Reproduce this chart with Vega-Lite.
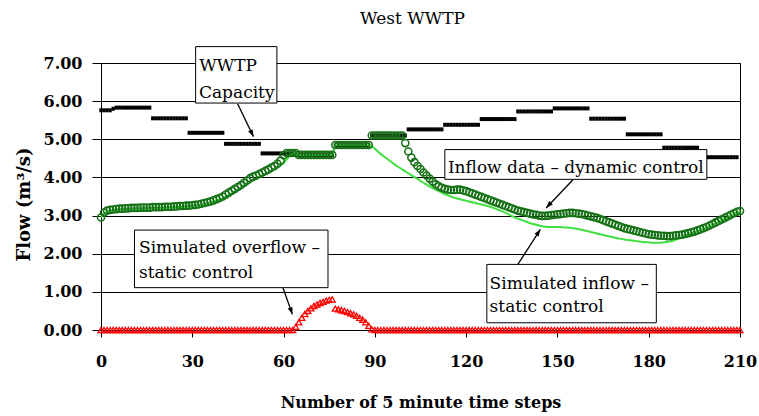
{
  "$schema": "https://vega.github.io/schema/vega-lite/v6.json",
  "width": 639,
  "height": 267,
  "autosize": {"type": "none"},
  "padding": {"left": 101, "top": 63, "right": 19, "bottom": 86},
  "background": "white",
  "title": {"text": "West WWTP", "font": "DejaVu Serif", "fontSize": 17, "fontWeight": "normal", "color": "black", "anchor": "middle", "frame": "group", "offset": 18, "dx": -8},
  "config": {"font": "DejaVu Serif", "view": {"stroke": "black", "strokeWidth": 1}},
  "datasets": {
    "flow": [
      {"t":0,"cap":5.76,"dyn":2.95,"sim":2.95,"ovf":0},
      {"t":1,"cap":5.76,"dyn":3.08,"sim":3.05,"ovf":0},
      {"t":2,"cap":5.76,"dyn":3.13,"sim":3.1,"ovf":0},
      {"t":3,"cap":5.76,"dyn":3.15,"sim":3.13,"ovf":0},
      {"t":4,"cap":5.8,"dyn":3.16,"sim":3.14,"ovf":0},
      {"t":5,"cap":5.83,"dyn":3.17,"sim":3.15,"ovf":0},
      {"t":6,"cap":5.83,"dyn":3.18,"sim":3.16,"ovf":0},
      {"t":7,"cap":5.83,"dyn":3.18,"sim":3.16,"ovf":0},
      {"t":8,"cap":5.83,"dyn":3.19,"sim":3.17,"ovf":0},
      {"t":9,"cap":5.83,"dyn":3.19,"sim":3.17,"ovf":0},
      {"t":10,"cap":5.83,"dyn":3.2,"sim":3.18,"ovf":0},
      {"t":11,"cap":5.83,"dyn":3.2,"sim":3.18,"ovf":0},
      {"t":12,"cap":5.83,"dyn":3.2,"sim":3.18,"ovf":0},
      {"t":13,"cap":5.83,"dyn":3.21,"sim":3.19,"ovf":0},
      {"t":14,"cap":5.83,"dyn":3.21,"sim":3.19,"ovf":0},
      {"t":15,"cap":5.83,"dyn":3.21,"sim":3.19,"ovf":0},
      {"t":16,"cap":5.83,"dyn":3.21,"sim":3.19,"ovf":0},
      {"t":17,"cap":5.55,"dyn":3.22,"sim":3.2,"ovf":0},
      {"t":18,"cap":5.55,"dyn":3.22,"sim":3.2,"ovf":0},
      {"t":19,"cap":5.55,"dyn":3.22,"sim":3.2,"ovf":0},
      {"t":20,"cap":5.55,"dyn":3.22,"sim":3.2,"ovf":0},
      {"t":21,"cap":5.55,"dyn":3.23,"sim":3.21,"ovf":0},
      {"t":22,"cap":5.55,"dyn":3.23,"sim":3.21,"ovf":0},
      {"t":23,"cap":5.55,"dyn":3.23,"sim":3.21,"ovf":0},
      {"t":24,"cap":5.55,"dyn":3.24,"sim":3.22,"ovf":0},
      {"t":25,"cap":5.55,"dyn":3.24,"sim":3.22,"ovf":0},
      {"t":26,"cap":5.55,"dyn":3.25,"sim":3.23,"ovf":0},
      {"t":27,"cap":5.55,"dyn":3.25,"sim":3.23,"ovf":0},
      {"t":28,"cap":5.55,"dyn":3.26,"sim":3.24,"ovf":0},
      {"t":29,"cap":5.17,"dyn":3.26,"sim":3.24,"ovf":0},
      {"t":30,"cap":5.17,"dyn":3.27,"sim":3.25,"ovf":0},
      {"t":31,"cap":5.17,"dyn":3.28,"sim":3.26,"ovf":0},
      {"t":32,"cap":5.17,"dyn":3.29,"sim":3.27,"ovf":0},
      {"t":33,"cap":5.17,"dyn":3.31,"sim":3.28,"ovf":0},
      {"t":34,"cap":5.17,"dyn":3.33,"sim":3.3,"ovf":0},
      {"t":35,"cap":5.17,"dyn":3.35,"sim":3.32,"ovf":0},
      {"t":36,"cap":5.17,"dyn":3.37,"sim":3.34,"ovf":0},
      {"t":37,"cap":5.17,"dyn":3.4,"sim":3.36,"ovf":0},
      {"t":38,"cap":5.17,"dyn":3.43,"sim":3.39,"ovf":0},
      {"t":39,"cap":5.17,"dyn":3.46,"sim":3.42,"ovf":0},
      {"t":40,"cap":5.17,"dyn":3.5,"sim":3.45,"ovf":0},
      {"t":41,"cap":4.88,"dyn":3.55,"sim":3.49,"ovf":0},
      {"t":42,"cap":4.88,"dyn":3.6,"sim":3.53,"ovf":0},
      {"t":43,"cap":4.88,"dyn":3.65,"sim":3.57,"ovf":0},
      {"t":44,"cap":4.88,"dyn":3.7,"sim":3.62,"ovf":0},
      {"t":45,"cap":4.88,"dyn":3.75,"sim":3.67,"ovf":0},
      {"t":46,"cap":4.88,"dyn":3.8,"sim":3.72,"ovf":0},
      {"t":47,"cap":4.88,"dyn":3.86,"sim":3.77,"ovf":0},
      {"t":48,"cap":4.88,"dyn":3.92,"sim":3.82,"ovf":0},
      {"t":49,"cap":4.88,"dyn":3.98,"sim":3.87,"ovf":0},
      {"t":50,"cap":4.88,"dyn":4.02,"sim":3.92,"ovf":0},
      {"t":51,"cap":4.88,"dyn":4.05,"sim":3.96,"ovf":0},
      {"t":52,"cap":4.88,"dyn":4.09,"sim":4.0,"ovf":0},
      {"t":53,"cap":4.63,"dyn":4.13,"sim":4.04,"ovf":0},
      {"t":54,"cap":4.63,"dyn":4.17,"sim":4.08,"ovf":0},
      {"t":55,"cap":4.63,"dyn":4.21,"sim":4.12,"ovf":0},
      {"t":56,"cap":4.63,"dyn":4.26,"sim":4.16,"ovf":0},
      {"t":57,"cap":4.63,"dyn":4.3,"sim":4.21,"ovf":0},
      {"t":58,"cap":4.63,"dyn":4.36,"sim":4.26,"ovf":0},
      {"t":59,"cap":4.63,"dyn":4.44,"sim":4.32,"ovf":0},
      {"t":60,"cap":4.63,"dyn":4.58,"sim":4.38,"ovf":0},
      {"t":61,"cap":4.63,"dyn":4.64,"sim":4.47,"ovf":0},
      {"t":62,"cap":4.63,"dyn":4.64,"sim":4.57,"ovf":0},
      {"t":63,"cap":4.63,"dyn":4.64,"sim":4.63,"ovf":0},
      {"t":64,"cap":4.63,"dyn":4.64,"sim":4.64,"ovf":0.08},
      {"t":65,"cap":4.58,"dyn":4.59,"sim":4.59,"ovf":0.2},
      {"t":66,"cap":4.58,"dyn":4.59,"sim":4.59,"ovf":0.32},
      {"t":67,"cap":4.58,"dyn":4.59,"sim":4.59,"ovf":0.42},
      {"t":68,"cap":4.58,"dyn":4.59,"sim":4.59,"ovf":0.5},
      {"t":69,"cap":4.58,"dyn":4.59,"sim":4.59,"ovf":0.57},
      {"t":70,"cap":4.58,"dyn":4.59,"sim":4.59,"ovf":0.63},
      {"t":71,"cap":4.58,"dyn":4.59,"sim":4.59,"ovf":0.67},
      {"t":72,"cap":4.58,"dyn":4.59,"sim":4.59,"ovf":0.71},
      {"t":73,"cap":4.58,"dyn":4.59,"sim":4.59,"ovf":0.74},
      {"t":74,"cap":4.58,"dyn":4.59,"sim":4.59,"ovf":0.77},
      {"t":75,"cap":4.58,"dyn":4.59,"sim":4.59,"ovf":0.79},
      {"t":76,"cap":4.58,"dyn":4.59,"sim":4.59,"ovf":0.8},
      {"t":77,"cap":4.84,"dyn":4.85,"sim":4.85,"ovf":0.56},
      {"t":78,"cap":4.84,"dyn":4.85,"sim":4.85,"ovf":0.54},
      {"t":79,"cap":4.84,"dyn":4.85,"sim":4.85,"ovf":0.52},
      {"t":80,"cap":4.84,"dyn":4.85,"sim":4.85,"ovf":0.5},
      {"t":81,"cap":4.84,"dyn":4.85,"sim":4.85,"ovf":0.47},
      {"t":82,"cap":4.84,"dyn":4.85,"sim":4.85,"ovf":0.44},
      {"t":83,"cap":4.84,"dyn":4.85,"sim":4.85,"ovf":0.41},
      {"t":84,"cap":4.84,"dyn":4.85,"sim":4.85,"ovf":0.37},
      {"t":85,"cap":4.84,"dyn":4.85,"sim":4.85,"ovf":0.32},
      {"t":86,"cap":4.84,"dyn":4.85,"sim":4.85,"ovf":0.27},
      {"t":87,"cap":4.84,"dyn":4.85,"sim":4.85,"ovf":0.2},
      {"t":88,"cap":4.84,"dyn":4.85,"sim":4.85,"ovf":0.11},
      {"t":89,"cap":5.1,"dyn":5.1,"sim":4.82,"ovf":0.02},
      {"t":90,"cap":5.1,"dyn":5.1,"sim":4.75,"ovf":0},
      {"t":91,"cap":5.1,"dyn":5.1,"sim":4.68,"ovf":0},
      {"t":92,"cap":5.1,"dyn":5.1,"sim":4.61,"ovf":0},
      {"t":93,"cap":5.1,"dyn":5.1,"sim":4.55,"ovf":0},
      {"t":94,"cap":5.1,"dyn":5.1,"sim":4.49,"ovf":0},
      {"t":95,"cap":5.1,"dyn":5.1,"sim":4.43,"ovf":0},
      {"t":96,"cap":5.1,"dyn":5.1,"sim":4.37,"ovf":0},
      {"t":97,"cap":5.1,"dyn":5.1,"sim":4.31,"ovf":0},
      {"t":98,"cap":5.1,"dyn":5.1,"sim":4.26,"ovf":0},
      {"t":99,"cap":5.1,"dyn":5.1,"sim":4.21,"ovf":0},
      {"t":100,"cap":5.1,"dyn":4.9,"sim":4.16,"ovf":0},
      {"t":101,"cap":5.26,"dyn":4.68,"sim":4.11,"ovf":0},
      {"t":102,"cap":5.26,"dyn":4.52,"sim":4.06,"ovf":0},
      {"t":103,"cap":5.26,"dyn":4.4,"sim":4.01,"ovf":0},
      {"t":104,"cap":5.26,"dyn":4.3,"sim":3.96,"ovf":0},
      {"t":105,"cap":5.26,"dyn":4.22,"sim":3.91,"ovf":0},
      {"t":106,"cap":5.26,"dyn":4.13,"sim":3.86,"ovf":0},
      {"t":107,"cap":5.26,"dyn":4.05,"sim":3.81,"ovf":0},
      {"t":108,"cap":5.26,"dyn":3.97,"sim":3.76,"ovf":0},
      {"t":109,"cap":5.26,"dyn":3.89,"sim":3.72,"ovf":0},
      {"t":110,"cap":5.26,"dyn":3.82,"sim":3.68,"ovf":0},
      {"t":111,"cap":5.26,"dyn":3.77,"sim":3.64,"ovf":0},
      {"t":112,"cap":5.26,"dyn":3.73,"sim":3.6,"ovf":0},
      {"t":113,"cap":5.38,"dyn":3.7,"sim":3.56,"ovf":0},
      {"t":114,"cap":5.38,"dyn":3.68,"sim":3.53,"ovf":0},
      {"t":115,"cap":5.38,"dyn":3.67,"sim":3.5,"ovf":0},
      {"t":116,"cap":5.38,"dyn":3.67,"sim":3.47,"ovf":0},
      {"t":117,"cap":5.38,"dyn":3.68,"sim":3.45,"ovf":0},
      {"t":118,"cap":5.38,"dyn":3.68,"sim":3.43,"ovf":0},
      {"t":119,"cap":5.38,"dyn":3.66,"sim":3.41,"ovf":0},
      {"t":120,"cap":5.38,"dyn":3.64,"sim":3.39,"ovf":0},
      {"t":121,"cap":5.38,"dyn":3.61,"sim":3.37,"ovf":0},
      {"t":122,"cap":5.38,"dyn":3.58,"sim":3.35,"ovf":0},
      {"t":123,"cap":5.38,"dyn":3.55,"sim":3.33,"ovf":0},
      {"t":124,"cap":5.38,"dyn":3.52,"sim":3.31,"ovf":0},
      {"t":125,"cap":5.53,"dyn":3.49,"sim":3.29,"ovf":0},
      {"t":126,"cap":5.53,"dyn":3.46,"sim":3.27,"ovf":0},
      {"t":127,"cap":5.53,"dyn":3.43,"sim":3.25,"ovf":0},
      {"t":128,"cap":5.53,"dyn":3.4,"sim":3.23,"ovf":0},
      {"t":129,"cap":5.53,"dyn":3.37,"sim":3.2,"ovf":0},
      {"t":130,"cap":5.53,"dyn":3.34,"sim":3.17,"ovf":0},
      {"t":131,"cap":5.53,"dyn":3.31,"sim":3.14,"ovf":0},
      {"t":132,"cap":5.53,"dyn":3.28,"sim":3.11,"ovf":0},
      {"t":133,"cap":5.53,"dyn":3.25,"sim":3.07,"ovf":0},
      {"t":134,"cap":5.53,"dyn":3.22,"sim":3.03,"ovf":0},
      {"t":135,"cap":5.53,"dyn":3.19,"sim":2.99,"ovf":0},
      {"t":136,"cap":5.53,"dyn":3.16,"sim":2.95,"ovf":0},
      {"t":137,"cap":5.73,"dyn":3.13,"sim":2.92,"ovf":0},
      {"t":138,"cap":5.73,"dyn":3.11,"sim":2.89,"ovf":0},
      {"t":139,"cap":5.73,"dyn":3.09,"sim":2.86,"ovf":0},
      {"t":140,"cap":5.73,"dyn":3.07,"sim":2.83,"ovf":0},
      {"t":141,"cap":5.73,"dyn":3.05,"sim":2.8,"ovf":0},
      {"t":142,"cap":5.73,"dyn":3.03,"sim":2.78,"ovf":0},
      {"t":143,"cap":5.73,"dyn":3.02,"sim":2.76,"ovf":0},
      {"t":144,"cap":5.73,"dyn":3.0,"sim":2.74,"ovf":0},
      {"t":145,"cap":5.73,"dyn":2.99,"sim":2.72,"ovf":0},
      {"t":146,"cap":5.73,"dyn":2.99,"sim":2.71,"ovf":0},
      {"t":147,"cap":5.73,"dyn":3.0,"sim":2.7,"ovf":0},
      {"t":148,"cap":5.73,"dyn":3.01,"sim":2.7,"ovf":0},
      {"t":149,"cap":5.81,"dyn":3.02,"sim":2.7,"ovf":0},
      {"t":150,"cap":5.81,"dyn":3.03,"sim":2.7,"ovf":0},
      {"t":151,"cap":5.81,"dyn":3.04,"sim":2.7,"ovf":0},
      {"t":152,"cap":5.81,"dyn":3.05,"sim":2.69,"ovf":0},
      {"t":153,"cap":5.81,"dyn":3.06,"sim":2.69,"ovf":0},
      {"t":154,"cap":5.81,"dyn":3.07,"sim":2.68,"ovf":0},
      {"t":155,"cap":5.81,"dyn":3.07,"sim":2.67,"ovf":0},
      {"t":156,"cap":5.81,"dyn":3.06,"sim":2.66,"ovf":0},
      {"t":157,"cap":5.81,"dyn":3.05,"sim":2.64,"ovf":0},
      {"t":158,"cap":5.81,"dyn":3.04,"sim":2.63,"ovf":0},
      {"t":159,"cap":5.81,"dyn":3.02,"sim":2.61,"ovf":0},
      {"t":160,"cap":5.81,"dyn":3.0,"sim":2.59,"ovf":0},
      {"t":161,"cap":5.54,"dyn":2.98,"sim":2.57,"ovf":0},
      {"t":162,"cap":5.54,"dyn":2.96,"sim":2.55,"ovf":0},
      {"t":163,"cap":5.54,"dyn":2.94,"sim":2.53,"ovf":0},
      {"t":164,"cap":5.54,"dyn":2.91,"sim":2.51,"ovf":0},
      {"t":165,"cap":5.54,"dyn":2.88,"sim":2.49,"ovf":0},
      {"t":166,"cap":5.54,"dyn":2.85,"sim":2.47,"ovf":0},
      {"t":167,"cap":5.54,"dyn":2.82,"sim":2.46,"ovf":0},
      {"t":168,"cap":5.54,"dyn":2.79,"sim":2.44,"ovf":0},
      {"t":169,"cap":5.54,"dyn":2.76,"sim":2.42,"ovf":0},
      {"t":170,"cap":5.54,"dyn":2.73,"sim":2.4,"ovf":0},
      {"t":171,"cap":5.54,"dyn":2.7,"sim":2.39,"ovf":0},
      {"t":172,"cap":5.54,"dyn":2.67,"sim":2.37,"ovf":0},
      {"t":173,"cap":5.13,"dyn":2.65,"sim":2.36,"ovf":0},
      {"t":174,"cap":5.13,"dyn":2.63,"sim":2.35,"ovf":0},
      {"t":175,"cap":5.13,"dyn":2.61,"sim":2.34,"ovf":0},
      {"t":176,"cap":5.13,"dyn":2.59,"sim":2.33,"ovf":0},
      {"t":177,"cap":5.13,"dyn":2.57,"sim":2.32,"ovf":0},
      {"t":178,"cap":5.13,"dyn":2.55,"sim":2.31,"ovf":0},
      {"t":179,"cap":5.13,"dyn":2.53,"sim":2.3,"ovf":0},
      {"t":180,"cap":5.13,"dyn":2.51,"sim":2.3,"ovf":0},
      {"t":181,"cap":5.13,"dyn":2.5,"sim":2.29,"ovf":0},
      {"t":182,"cap":5.13,"dyn":2.49,"sim":2.29,"ovf":0},
      {"t":183,"cap":5.13,"dyn":2.48,"sim":2.29,"ovf":0},
      {"t":184,"cap":5.13,"dyn":2.47,"sim":2.29,"ovf":0},
      {"t":185,"cap":4.78,"dyn":2.47,"sim":2.3,"ovf":0},
      {"t":186,"cap":4.78,"dyn":2.46,"sim":2.31,"ovf":0},
      {"t":187,"cap":4.78,"dyn":2.46,"sim":2.32,"ovf":0},
      {"t":188,"cap":4.78,"dyn":2.47,"sim":2.34,"ovf":0},
      {"t":189,"cap":4.78,"dyn":2.48,"sim":2.37,"ovf":0},
      {"t":190,"cap":4.78,"dyn":2.49,"sim":2.4,"ovf":0},
      {"t":191,"cap":4.78,"dyn":2.5,"sim":2.43,"ovf":0},
      {"t":192,"cap":4.78,"dyn":2.52,"sim":2.47,"ovf":0},
      {"t":193,"cap":4.78,"dyn":2.54,"sim":2.5,"ovf":0},
      {"t":194,"cap":4.78,"dyn":2.56,"sim":2.53,"ovf":0},
      {"t":195,"cap":4.78,"dyn":2.58,"sim":2.56,"ovf":0},
      {"t":196,"cap":4.78,"dyn":2.61,"sim":2.59,"ovf":0},
      {"t":197,"cap":4.53,"dyn":2.64,"sim":2.62,"ovf":0},
      {"t":198,"cap":4.53,"dyn":2.67,"sim":2.65,"ovf":0},
      {"t":199,"cap":4.53,"dyn":2.7,"sim":2.68,"ovf":0},
      {"t":200,"cap":4.53,"dyn":2.74,"sim":2.72,"ovf":0},
      {"t":201,"cap":4.53,"dyn":2.78,"sim":2.76,"ovf":0},
      {"t":202,"cap":4.53,"dyn":2.82,"sim":2.8,"ovf":0},
      {"t":203,"cap":4.53,"dyn":2.86,"sim":2.84,"ovf":0},
      {"t":204,"cap":4.53,"dyn":2.9,"sim":2.88,"ovf":0},
      {"t":205,"cap":4.53,"dyn":2.94,"sim":2.92,"ovf":0},
      {"t":206,"cap":4.53,"dyn":2.98,"sim":2.96,"ovf":0},
      {"t":207,"cap":4.53,"dyn":3.02,"sim":3.0,"ovf":0},
      {"t":208,"cap":4.53,"dyn":3.06,"sim":3.04,"ovf":0},
      {"t":209,"cap":4.53,"dyn":3.1,"sim":3.08,"ovf":0},
      {"t":210,"cap":null,"dyn":3.12,"sim":3.1,"ovf":0}
    ],
    "boxes": [
      {"id":"b1","t":31.1,"t2":57.8,"v":7.43,"v2":5.95},
      {"id":"b2","t":113.0,"t2":199.1,"v":4.73,"v2":3.95},
      {"id":"b3","t":126.8,"t2":182.5,"v":1.72,"v2":0.19},
      {"id":"b4","t":11.0,"t2":74.6,"v":2.62,"v2":1.11}
    ],
    "labels": [
      {"t":32.3,"v":6.78,"label":"WWTP"},
      {"t":32.2,"v":6.08,"label":"Capacity"},
      {"t":114.0,"v":4.12,"label":"Inflow data – dynamic control"},
      {"t":127.7,"v":1.08,"label":"Simulated inflow –"},
      {"t":127.7,"v":0.47,"label":"static control"},
      {"t":12.5,"v":2.01,"label":"Simulated overflow –"},
      {"t":12.5,"v":1.37,"label":"static control"}
    ],
    "arrows": [
      {"id":"a1","t":50.1,"v":5.07,"t2":44.9,"v2":5.93},
      {"id":"a2","t":146.3,"v":3.2,"t2":155.1,"v2":3.94},
      {"id":"a3","t":144.4,"v":2.64,"t2":137.0,"v2":1.72},
      {"id":"a4","t":62.9,"v":0.41,"t2":59.8,"v2":1.11}
    ]
  },
  "encoding": {
    "x": {"field": "t", "type": "quantitative", "scale": {"domain": [0, 210], "nice": false, "zero": false},
      "axis": {"title": "Number of 5 minute time steps", "values": [0,30,60,90,120,150,180,210], "tickCount": 20, "grid": false, "tickSize": 7, "tickColor": "black", "domainColor": "black", "labelFontSize": 16, "labelFontWeight": "bold", "labelColor": "black", "labelFont": "DejaVu Serif", "labelPadding": 16, "labelFlush": false, "labelOverlap": false, "titleFont": "DejaVu Serif", "titleFontSize": 16, "titleFontWeight": "bold", "titleColor": "black", "titlePadding": 25}},
    "y": {"field": "v", "type": "quantitative", "scale": {"domain": [0, 7], "nice": false},
      "axis": {"title": "Flow (m³/s)", "values": [0,1,2,3,4,5,6,7], "tickCount": 10, "format": ".2f", "grid": true, "gridColor": "black", "gridOpacity": 1, "gridWidth": 1, "tickSize": 9, "tickColor": "black", "domainColor": "black", "labelFontSize": 16, "labelFontWeight": "bold", "labelColor": "black", "labelFont": "DejaVu Serif", "labelPadding": 10, "labelOverlap": false, "titleFont": "DejaVu Serif", "titleFontSize": 18, "titleFontWeight": "bold", "titleColor": "black", "titlePadding": 10, "titleY": 141}}
  },
  "layer": [
    {
      "data": {"name": "flow"},
      "transform": [{"fold": ["cap"], "as": ["series", "v"]}],
      "mark": {"type": "point", "shape": "M-1,-1.2L1,-1.2L1,1.2L-1,1.2Z", "filled": true, "color": "black", "size": 11, "opacity": 1, "strokeWidth": 0, "clip": false}
    },
    {
      "data": {"name": "flow"},
      "transform": [{"fold": ["sim"], "as": ["series", "v"]}],
      "mark": {"type": "line", "color": "#3fe03f", "strokeWidth": 2, "clip": false}
    },
    {
      "data": {"name": "flow"},
      "transform": [{"fold": ["dyn"], "as": ["series", "v"]}],
      "mark": {"type": "point", "shape": "circle", "filled": false, "color": "#177217", "size": 50, "strokeWidth": 1.6, "opacity": 1, "clip": false}
    },
    {
      "data": {"name": "flow"},
      "transform": [{"fold": ["ovf"], "as": ["series", "v"]}],
      "mark": {"type": "point", "shape": "triangle-up", "filled": false, "color": "#ff0000", "size": 35, "strokeWidth": 1.3, "opacity": 1, "clip": false}
    },
    {
      "data": {"name": "boxes"},
      "mark": {"type": "rect", "fill": "white", "stroke": "black", "strokeWidth": 1, "clip": false},
      "encoding": {
        "x2": {"field": "t2"},
        "y2": {"field": "v2"}
      }
    },
    {
      "data": {"name": "labels"},
      "mark": {"type": "text", "align": "left", "baseline": "alphabetic", "font": "DejaVu Serif", "fontSize": 17, "color": "black", "clip": false},
      "encoding": {
        "text": {"field": "label", "type": "nominal"}
      }
    },
    {
      "data": {"name": "arrows"},
      "mark": {"type": "rule", "color": "black", "strokeWidth": 1.3, "clip": false},
      "encoding": {
        "x2": {"field": "t2"},
        "y2": {"field": "v2"}
      }
    },
    {
      "data": {"name": "arrows"},
      "transform": [{"filter": "datum.id == 'a1'"}],
      "mark": {"type": "point", "shape": "M0,0L-0.5,1.4L0.5,1.4Z", "filled": true, "color": "black", "opacity": 1, "size": 100, "angle": 154, "strokeWidth": 0, "clip": false}
    },
    {
      "data": {"name": "arrows"},
      "transform": [{"filter": "datum.id == 'a2'"}],
      "mark": {"type": "point", "shape": "M0,0L-0.5,1.4L0.5,1.4Z", "filled": true, "color": "black", "opacity": 1, "size": 100, "angle": 223, "strokeWidth": 0, "clip": false}
    },
    {
      "data": {"name": "arrows"},
      "transform": [{"filter": "datum.id == 'a3'"}],
      "mark": {"type": "point", "shape": "M0,0L-0.5,1.4L0.5,1.4Z", "filled": true, "color": "black", "opacity": 1, "size": 100, "angle": 33, "strokeWidth": 0, "clip": false}
    },
    {
      "data": {"name": "arrows"},
      "transform": [{"filter": "datum.id == 'a4'"}],
      "mark": {"type": "point", "shape": "M0,0L-0.5,1.4L0.5,1.4Z", "filled": true, "color": "black", "opacity": 1, "size": 100, "angle": 161, "strokeWidth": 0, "clip": false}
    }
  ]
}
